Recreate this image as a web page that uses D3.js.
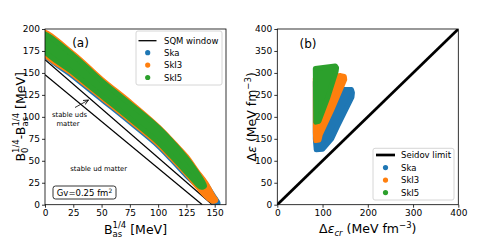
<!DOCTYPE html>
<html>
<head>
<meta charset="utf-8">
<script src="https://cdn.jsdelivr.net/npm/d3@7"></script>
<style>
  body { margin: 0; background: #fff; }
  text { font-family: "DejaVu Sans", sans-serif; }
</style>
</head>
<body>
<div id="chart"></div>
<script>
// Panel (a): outlines of the scatter clouds, [B_as^1/4, B0^1/4 - B_as^1/4] in MeV
const skaA = [[-3,193],[25,168],[50,141],[75,115],[100,88],[115,68],[125,53],[135,36],[142,24],[150,8],[153,2],[151,1],[145,8],[135,21],[125,33],[112,51],[100,67],[75,94],[50,120],[25,146],[-3,175]];
const ski3A = [[-3,197],[25,172],[50,143],[75,117],[100,89],[115,69],[125,55],[135,37],[142,25],[149,9],[151,5],[148,4],[142,10],[135,20],[125,35],[112,53],[100,69],[75,96],[50,122],[25,148],[-3,176]];
const ski5A = [[-3,195],[25,170],[50,141],[75,115],[100,88],[115,68],[125,53],[133,39],[139,27],[141,21],[138,20],[132,27],[125,37],[112,55],[100,71],[75,98],[50,124],[25,150],[-3,179]];
// SQM window boundaries
const sqmLines = [[[0,148],[139,0]], [[0,165],[148,0]]];

// Panel (b): outlines of the scatter clouds, [delta eps_cr, delta eps] in MeV fm^-3
const skaB = [[84,280],[150,262],[164,262],[166,255],[165,245],[133,178],[120,150],[100,126],[86,125],[84,150]];
const ski3B = [[84,288],[140,294],[148,292],[149,285],[120,215],[95,160],[92,147],[85,146],[84,165]];
const ski5B = [[84,310],[128,316],[131,312],[130,304],[112,245],[92,190],[85,188]];
const seidov = [[0,0],[400,400]];

const seriesNames = ["Ska", "SkI3", "SkI5"];
const colors = ["#1f77b4", "#ff7f0e", "#2ca02c"];

const xTicksA = [0, 25, 50, 75, 100, 125, 150];
const yTicksA = [0, 25, 50, 75, 100, 125, 150, 175, 200];
const xTicksB = [0, 100, 200, 300, 400];
const yTicksB = [0, 50, 100, 150, 200, 250, 300, 350, 400];

const svg = d3.select("#chart")
    .append("svg")
    .attr("width", 491)
    .attr("height", 245);

// Scales
const xA = d3.scaleLinear().domain([0, 160]).range([45, 226]);
const yA = d3.scaleLinear().domain([0, 200]).range([204.7, 29]);
const xB = d3.scaleLinear().domain([0, 400]).range([277.3, 458.3]);
const yB = d3.scaleLinear().domain([0, 400]).range([204.7, 29]);

const defs = svg.append("defs");
defs.append("clipPath").attr("id", "clipA").append("rect")
    .attr("x", 45).attr("y", 29).attr("width", 181).attr("height", 175.7);
defs.append("clipPath").attr("id", "clipB").append("rect")
    .attr("x", 277.3).attr("y", 29).attr("width", 181).attr("height", 175.7);

// Draw one cloud outline as a filled blob (stroke mimics the marker radius)
function drawCloud(g, pts, x, y, color, curve) {
    const line = d3.line().x(d => x(d[0])).y(d => y(d[1])).curve(curve);
    g.append("path")
        .attr("d", line(pts))
        .attr("fill", color)
        .attr("stroke", color)
        .attr("stroke-width", 5)
        .attr("stroke-linejoin", "round");
}

function drawAxes(x, y, xt, yt) {
    const gx = svg.append("g")
        .attr("transform", "translate(0," + y.range()[0] + ")")
        .call(d3.axisBottom(x).tickValues(xt).tickSize(3).tickPadding(1.5).tickFormat(d3.format("d")));
    const gy = svg.append("g")
        .attr("transform", "translate(" + x.range()[0] + ",0)")
        .call(d3.axisLeft(y).tickValues(yt).tickSize(3).tickPadding(2).tickFormat(d3.format("d")));
    [gx, gy].forEach(g => {
        g.selectAll("text").attr("font-size", 9).attr("font-family", "DejaVu Sans").attr("fill", "#000");
        g.selectAll("line").attr("stroke-width", 0.8);
        g.select(".domain").remove();
    });
    svg.append("rect")
        .attr("x", x.range()[0]).attr("y", y.range()[1])
        .attr("width", x.range()[1] - x.range()[0])
        .attr("height", y.range()[0] - y.range()[1])
        .attr("fill", "none").attr("stroke", "#000").attr("stroke-width", 0.8);
}

// ---------- Panel (a) ----------
const gA = svg.append("g").attr("clip-path", "url(#clipA)");
const lineA = d3.line().x(d => xA(d[0])).y(d => yA(d[1]));
sqmLines.forEach(l => {
    gA.append("path").attr("d", lineA(l)).attr("fill", "none")
        .attr("stroke", "#000").attr("stroke-width", 1.3);
});
[skaA, ski3A, ski5A].forEach((pts, i) => drawCloud(gA, pts, xA, yA, colors[i], d3.curveCatmullRomClosed.alpha(0.5)));
drawAxes(xA, yA, xTicksA, yTicksA);

svg.append("text").attr("x", 80.5).attr("y", 47).attr("text-anchor", "middle")
    .attr("font-size", 12).text("(a)");

// annotations
svg.append("text").attr("x", 69.5).attr("y", 117.3).attr("text-anchor", "middle")
    .attr("font-size", 6.8).text("stable uds");
svg.append("text").attr("x", 68).attr("y", 125.7).attr("text-anchor", "middle")
    .attr("font-size", 6.8).text("matter");
svg.append("text").attr("x", 98.7).attr("y", 170.7).attr("text-anchor", "middle")
    .attr("font-size", 6.8).text("stable ud matter");

defs.append("marker").attr("id", "arrow").attr("viewBox", "0 0 10 10")
    .attr("refX", 9).attr("refY", 5).attr("markerWidth", 6).attr("markerHeight", 6)
    .attr("orient", "auto").attr("markerUnits", "userSpaceOnUse")
    .append("path").attr("d", "M0,1 L9,5 L0,9").attr("fill", "none").attr("stroke", "#000").attr("stroke-width", 1.3);
svg.append("line").attr("x1", 75).attr("y1", 107.5).attr("x2", 88.5).attr("y2", 100)
    .attr("stroke", "#000").attr("stroke-width", 0.8).attr("marker-end", "url(#arrow)");

svg.append("rect").attr("x", 53).attr("y", 186).attr("width", 63).attr("height", 13)
    .attr("rx", 2.5).attr("fill", "#fff").attr("stroke", "#000").attr("stroke-width", 0.8);
const gv = svg.append("text").attr("x", 84.5).attr("y", 196).attr("text-anchor", "middle")
    .attr("font-size", 8.5);
gv.append("tspan").text("Gv=0.25 fm");
gv.append("tspan").attr("font-size", 6).attr("dy", -3.5).text("2");

// legend (a)
svg.append("rect").attr("x", 136).attr("y", 31).attr("width", 86).attr("height", 54)
    .attr("rx", 2).attr("fill", "#fff").attr("fill-opacity", 0.8)
    .attr("stroke", "#ccc").attr("stroke-width", 0.8);
svg.append("line").attr("x1", 138.5).attr("x2", 156.5).attr("y1", 40.7).attr("y2", 40.7)
    .attr("stroke", "#000").attr("stroke-width", 1.3);
svg.append("text").attr("x", 164).attr("y", 43.7).attr("font-size", 8.5).text("SQM window");
seriesNames.forEach((n, i) => {
    const yy = 52.7 + i * 12.4;
    svg.append("circle").attr("cx", 147.7).attr("cy", yy).attr("r", 2.6).attr("fill", colors[i]);
    svg.append("text").attr("x", 164).attr("y", yy + 3).attr("font-size", 8.5).text(n);
});

// axis labels (a)
const xlA = svg.append("text").attr("x", 135.5).attr("y", 233.5).attr("text-anchor", "middle")
    .attr("font-size", 12.5);
xlA.append("tspan").text("B");
xlA.append("tspan").attr("font-size", 8.5).attr("dy", 3).text("as");
xlA.append("tspan").attr("font-size", 8.5).attr("dx", -9.6).attr("dy", -8.5).text("1/4");
xlA.append("tspan").attr("dy", 5.5).text(" [MeV]");

const ylA = svg.append("text").attr("transform", "translate(24.5,116.8) rotate(-90)")
    .attr("text-anchor", "middle").attr("font-size", 12.5);
ylA.append("tspan").text("B");
ylA.append("tspan").attr("font-size", 8.5).attr("dy", 3).text("0");
ylA.append("tspan").attr("font-size", 8.5).attr("dx", -5.4).attr("dy", -8.5).text("1/4");
ylA.append("tspan").attr("dy", 5.5).text("-B");
ylA.append("tspan").attr("font-size", 8.5).attr("dy", 3).text("as");
ylA.append("tspan").attr("font-size", 8.5).attr("dx", -9.6).attr("dy", -8.5).text("1/4");
ylA.append("tspan").attr("dy", 5.5).text(" [MeV]");

// ---------- Panel (b) ----------
const gB = svg.append("g").attr("clip-path", "url(#clipB)");
[skaB, ski3B, ski5B].forEach((pts, i) => drawCloud(gB, pts, xB, yB, colors[i], d3.curveLinearClosed));
const lineB = d3.line().x(d => xB(d[0])).y(d => yB(d[1]));
gB.append("path").attr("d", lineB(seidov)).attr("fill", "none")
    .attr("stroke", "#000").attr("stroke-width", 2.7);
drawAxes(xB, yB, xTicksB, yTicksB);

svg.append("text").attr("x", 308).attr("y", 48).attr("text-anchor", "middle")
    .attr("font-size", 12).text("(b)");

// legend (b)
svg.append("rect").attr("x", 373).attr("y", 148.3).attr("width", 81).attr("height", 51.7)
    .attr("rx", 2).attr("fill", "#fff").attr("fill-opacity", 0.8)
    .attr("stroke", "#ccc").attr("stroke-width", 0.8);
svg.append("line").attr("x1", 376).attr("x2", 395).attr("y1", 155).attr("y2", 155)
    .attr("stroke", "#000").attr("stroke-width", 2.7);
svg.append("text").attr("x", 401).attr("y", 158).attr("font-size", 8.5).text("Seidov limit");
seriesNames.forEach((n, i) => {
    const yy = 167.6 + i * 12.5;
    svg.append("circle").attr("cx", 385.5).attr("cy", yy).attr("r", 2.6).attr("fill", colors[i]);
    svg.append("text").attr("x", 401).attr("y", yy + 3).attr("font-size", 8.5).text(n);
});

// axis labels (b)
const xlB = svg.append("text").attr("x", 367.8).attr("y", 233).attr("text-anchor", "middle")
    .attr("font-size", 12.5);
xlB.append("tspan").text("Δ");
xlB.append("tspan").attr("font-style", "italic").text("ε");
xlB.append("tspan").attr("font-size", 8.5).attr("font-style", "italic").attr("dy", 3).text("cr");
xlB.append("tspan").attr("dy", -3).text(" (MeV fm");
xlB.append("tspan").attr("font-size", 8.5).attr("dy", -5).text("−3");
xlB.append("tspan").attr("dy", 5).text(")");

const ylB = svg.append("text").attr("transform", "translate(256,116.8) rotate(-90)")
    .attr("text-anchor", "middle").attr("font-size", 12.5);
ylB.append("tspan").text("Δ");
ylB.append("tspan").attr("font-style", "italic").text("ε");
ylB.append("tspan").text(" (MeV fm");
ylB.append("tspan").attr("font-size", 8.5).attr("dy", -5).text("−3");
ylB.append("tspan").attr("dy", 5).text(")");
</script>
</body>
</html>
